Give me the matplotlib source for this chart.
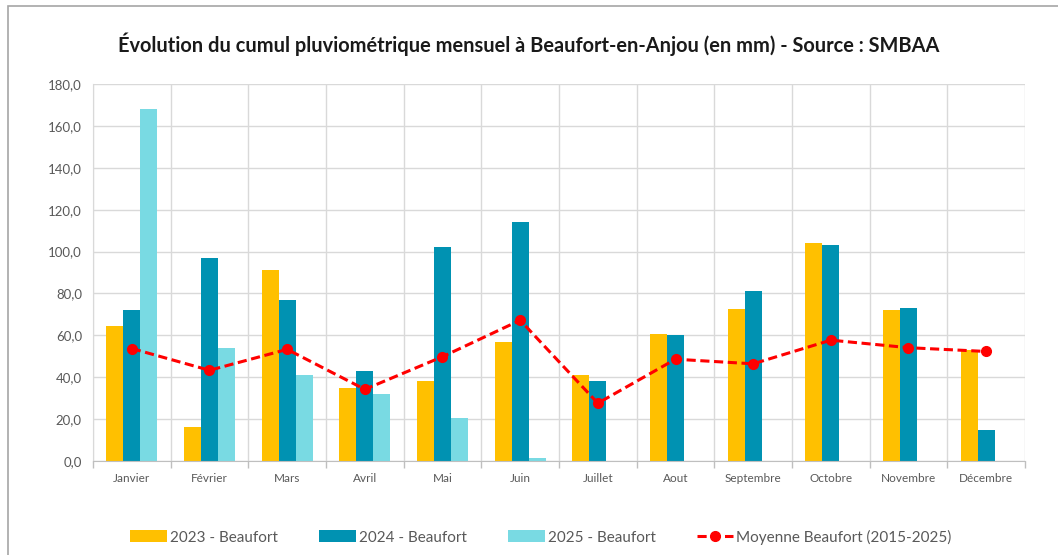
import numpy as np
import matplotlib
matplotlib.use('Agg')
import matplotlib.pyplot as plt
from matplotlib.ticker import FuncFormatter, FixedLocator
from matplotlib.patches import Rectangle

plt.rcParams['font.family'] = ['Lato', 'DejaVu Sans']

mois = ['Janvier', 'Février', 'Mars', 'Avril', 'Mai', 'Juin', 'Juillet',
        'Aout', 'Septembre', 'Octobre', 'Novembre', 'Décembre']
p2023 = [64.5, 16.0, 91.0, 35.0, 38.0, 56.8, 41.0, 60.5, 72.4, 104.0, 72.0, 53.0]
p2024 = [72.0, 97.0, 77.0, 43.0, 102.0, 114.0, 38.0, 60.0, 81.0, 103.0, 73.0, 15.0]
p2025 = [168.0, 54.0, 41.0, 32.0, 20.5, 1.5, np.nan, np.nan, np.nan, np.nan, np.nan, np.nan]
moyenne = [53.7, 43.3, 53.3, 34.2, 49.8, 67.2, 27.6, 48.6, 46.4, 57.7, 54.1, 52.3]

c2023 = '#FFC000'
c2024 = '#0092B2'
c2025 = '#79DAE3'
gris = '#595959'
grille = '#D9D9D9'

fig = plt.figure(figsize=(10.58, 5.55), dpi=100)
ax = fig.add_axes([93/1058, 1-461/555, (1025-93)/1058, (461-84)/555])

x = np.arange(len(mois))
w = 0.22
b1 = ax.bar(x - w, p2023, w, color=c2023, label='2023 - Beaufort', zorder=2)
b2 = ax.bar(x, p2024, w, color=c2024, label='2024 - Beaufort', zorder=2)
b3 = ax.bar(x + w, p2025, w, color=c2025, label='2025 - Beaufort', zorder=2)
l1, = ax.plot(x, moyenne, color='#FF0000', ls=(0, (3, 1.5)), lw=2.2, marker='o', ms=7,
              label='Moyenne Beaufort (2015-2025)', zorder=3)

ax.set_xlim(-0.5, 11.5)
ax.set_ylim(0, 180)
ax.set_yticks(np.arange(0, 181, 20))
ax.yaxis.set_major_formatter(FuncFormatter(lambda v, p: f'{v:.1f}'.replace('.', ',')))
ax.set_xticks(x)
ax.set_xticklabels(mois)
ax.xaxis.set_minor_locator(FixedLocator(np.arange(-0.5, 12, 1)))
ax.tick_params(axis='x', which='major', length=0, pad=9, labelsize=8.5, labelcolor=gris)
ax.tick_params(axis='x', which='minor', length=5, color='#BFBFBF', width=1)
ax.tick_params(axis='y', length=0, pad=8, labelsize=9.5, labelcolor=gris)
ax.grid(axis='y', color=grille, lw=1, zorder=0)
ax.grid(axis='x', which='minor', color=grille, lw=1, zorder=0)
for s in ['top', 'right']:
    ax.spines[s].set_visible(False)
ax.spines['left'].set_color(grille)
ax.spines['bottom'].set_color('#BFBFBF')

fig.text(529/1058, 1-44/555, 'Évolution du cumul pluviométrique mensuel à Beaufort-en-Anjou (en mm) - Source : SMBAA',
         ha='center', va='center', fontsize=14.4, fontweight='bold', color='#1A1A1A')

leg = fig.legend([b1, b2, b3, l1], [h.get_label() for h in [b1, b2, b3, l1]],
                 loc='center', bbox_to_anchor=(541/1058, 1-537/555), ncol=4, frameon=False,
                 fontsize=11, handlelength=2.4, handleheight=0.8, columnspacing=2.7, handletextpad=0.2)
for t in leg.get_texts():
    t.set_color(gris)

fig.patches.append(Rectangle((7.5/1058, -0.1), 1.2, 1-5.5/555+0.1, transform=fig.transFigure,
                             fill=False, edgecolor='#A6A6A6', lw=1.2))

fig.savefig('out.png', dpi=100)
